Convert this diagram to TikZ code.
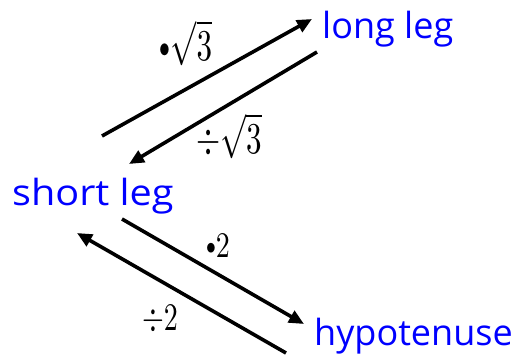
\documentclass[tikz,border=0pt]{standalone}
\usepackage{fontspec}
\usepackage{graphicx}
\newfontfamily\lblfont{Open Sans}
\usetikzlibrary{arrows.meta}
\newcommand{\smbul}{\raisebox{0.6pt}{\scalebox{0.7}{$\bullet$}}}
\begin{document}
\begin{tikzpicture}[x=1pt,y=-1pt,
  lbl/.style={text=blue, font=\lblfont\fontsize{36}{40}\selectfont, inner sep=0pt},
  mlbl/.style={inner sep=0pt},
  conn/.style={line width=3.6pt, -{Triangle[length=15pt,width=13pt]}}]
\useasboundingbox (0,0) rectangle (523,362);
\node[lbl, anchor=base west] (long) at (322,38) {long leg};
\node[lbl, anchor=base west] (short) at (12,205) {\scalebox{1.1}[1]{short leg}};
\node[lbl, anchor=base west] (hyp) at (314,345) {hypotenuse};
\coordinate (a1s) at (102,136);
\coordinate (a1e) at (312,19);
\coordinate (a2s) at (317,52);
\coordinate (a2e) at (129,164);
\coordinate (a3s) at (122,219);
\coordinate (a3e) at (304,324);
\coordinate (a4s) at (286,353);
\coordinate (a4e) at (77,233);
\draw[conn] (a1s) -- (a1e);
\draw[conn] (a2s) -- (a2e);
\draw[conn] (a3s) -- (a3e);
\draw[conn] (a4s) -- (a4e);
\node[mlbl, anchor=base] (m1) at (186,60) {\scalebox{3.1}[4.4]{\smbul$\sqrt{3}$}};
\node[mlbl, anchor=base] (m2) at (229,153) {\scalebox{3.1}[4.4]{$\div\sqrt{3}$}};
\node[mlbl, anchor=base] (m3) at (218,257) {\scalebox{2.8}[3.6]{\smbul$2$}};
\node[mlbl, anchor=base] (m4) at (160,330) {\scalebox{2.8}[3.9]{$\div2$}};
\end{tikzpicture}
\end{document}
